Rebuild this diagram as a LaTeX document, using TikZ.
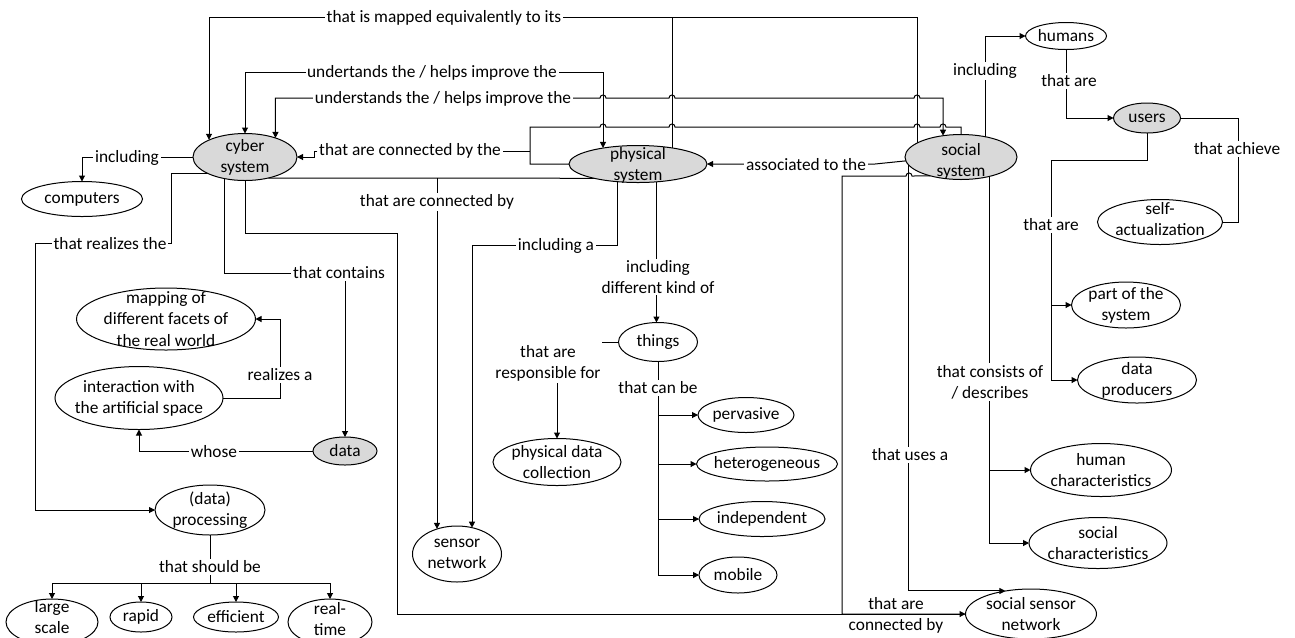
\documentclass[tikz,border=0pt]{standalone}
\usepackage{fontspec}
\setmainfont{Carlito}
\usetikzlibrary{shapes.geometric,arrows.meta}
\pgfdeclarelayer{bg}
\pgfsetlayers{bg,main}
\begin{document}
\begin{tikzpicture}[x=0.75pt,y=-0.75pt,
  every node/.style={font=\fontsize{13}{15.9}\selectfont},
  ell/.style 2 args={ellipse, draw, line width=0.75pt, inner sep=0pt, outer sep=0pt,
    minimum width=#1*0.75pt, minimum height=#2*0.75pt},
  gfill/.style={fill=gray!30},
  T/.style={label={[align=center,inner sep=0pt]center:{#1}}},
  Ts/.style 2 args={label={[align=center,inner sep=0pt,yshift=#2]center:{#1}}},
  lab/.style={fill=white, inner sep=1.2pt, align=center},
  conn/.style={line width=0.75pt},
  arr/.style={conn, -{Triangle[length=4.5pt,width=4.5pt]}},
  arrtwo/.style={conn, {Triangle[length=4.5pt,width=4.5pt]}-{Triangle[length=4.5pt,width=4.5pt]}}]
\useasboundingbox (0,0) rectangle (1295,637);

% concept nodes
\node[ell={104}{47},gfill,T={cyber\\system}] (cy) at (245,157) {};
\node[ell={121}{35},T={computers}] (comp) at (82,199) {};
\node[ell={138}{37},gfill,Ts={physical\\system}{-1pt}] (ph) at (638,164) {};
\node[ell={112}{45},gfill,Ts={social\\system}{-3.5pt}] (so) at (961,157) {};
\node[ell={81}{27},T={humans}] (hum) at (1066,36) {};
\node[ell={67}{30},gfill,T={users}] (us) at (1147,118) {};
\node[ell={125}{45},Ts={self-\\actualization}{2pt}] (sa) at (1160,222) {};
\node[ell={109}{46},T={part of the\\system}] (pos) at (1126,305) {};
\node[ell={119}{46},T={data\\producers}] (dp) at (1137,380) {};
\node[ell={141}{53},T={human\\characteristics}] (hc) at (1101,470) {};
\node[ell={138}{51},T={social\\characteristics}] (sc) at (1098,543) {};
\node[ell={131}{50},T={social sensor\\network}] (ssn) at (1031,614) {};
\node[ell={79}{39},T={things}] (th) at (658,342) {};
\node[ell={96}{35},T={pervasive}] (pv) at (746,415) {};
\node[ell={141}{34},T={heterogeneous}] (he) at (767,464) {};
\node[ell={126}{35},T={independent}] (ind) at (762,519) {};
\node[ell={78}{36},T={mobile}] (mob) at (738,575) {};
\node[ell={128}{47},T={physical data\\collection}] (pdc) at (557,462) {};
\node[ell={89}{56},T={sensor\\network}] (sn) at (457,554) {};
\node[ell={179}{62},T={mapping of\\different facets of\\the real world}] (map) at (166,319) {};
\node[ell={168}{63},T={interaction with\\the artificial space}] (int) at (139,398) {};
\node[ell={64}{28},gfill,T={data}] (data) at (345,451) {};
\node[ell={110}{50},T={(data)\\processing}] (proc) at (210,510) {};
\node[ell={92}{46},Ts={large\\scale}{3.5pt}] (ls) at (52,622) {};
\node[ell={62}{30},T={rapid}] (rap) at (141,617) {};
\node[ell={85}{30},T={efficient}] (eff) at (236,617) {};
\node[ell={84}{46},Ts={real-\\time}{2.5pt}] (rt) at (330,622) {};

% linking phrases
\node[lab] (L1) at (444,18) {that is mapped equivalently to its};
\node[lab] (L2) at (432,73) {undertands the / helps improve the};
\node[lab] (L3) at (443,99) {understands the / helps improve the};
\node[lab] (L4) at (410,151) {that are connected by the};
\node[lab] (L5) at (806,165) {associated to the};
\node[lab] (L6) at (437,202) {that are connected by};
\node[lab] (L7) at (556,246) {including a};
\node[lab] (L8) at (658,277) {including\\different kind of};
\node[lab] (L9) at (548,363) {that are\\responsible for};
\node[lab] (L10) at (658,388) {that can be};
\node[lab] (L11) at (110,244) {that realizes the};
\node[lab] (L12) at (339,273) {that contains};
\node[lab] (L13) at (127,158) {including};
\node[lab] (L14) at (280,375) {realizes a};
\node[lab] (L15) at (214,452) {whose};
\node[lab] (L16) at (210,567) {that should be};
\node[align=center,inner sep=0pt] (L17) at (896,615) {that are\\connected by};
\node[lab] (L18) at (985,71) {including};
\node[lab] (L19) at (1069,81) {that are};
\node[lab] (L20) at (1237,149) {that achieve};
\node[lab] (L21) at (1051,225) {that are};
\node[lab] (L22) at (990,382) {that consists of\\/ describes};
\node[lab] (L23) at (910,455) {that uses a};

\begin{pgfonlayer}{bg}
% that is mapped equivalently to its
\draw[arr] (so.162.5) |- (209,17) -- (209,17 |- cy.154.8);
\draw[conn] (ph.25.3) -- (ph.25.3 |- 0,17);
% undertands the / helps improve the
\draw[arrtwo] (cy.north) |- (603,72) -- (603,72 |- ph.155.6);
% understands the / helps improve the
\draw[arrtwo] (cy.32.6) |- (600,98) .. controls (600,94) and (606,94) .. (606,98)
  -- (669,98) .. controls (669,94) and (675,94) .. (675,98)
  -- (914,98) .. controls (914,94) and (920,94) .. (920,98)
  -- (943,98) -- (943,98 |- so.130.2);
% that are connected by the
\draw[conn] (ph.west) -- (530,164) -- (530,127)
  -- (600,127) .. controls (600,123) and (606,123) .. (606,127)
  -- (669,127) .. controls (669,123) and (675,123) .. (675,127)
  -- (914,127) .. controls (914,123) and (920,123) .. (920,127)
  -- (940,127) .. controls (940,123) and (946,123) .. (946,127)
  -- (961,127) -- (so.north);
\draw[conn] (530,151) -- (L4.east);
\draw[arr] (L4.west) -- ++(-3,0) |- (cy.east);
% associated to the
\draw[arr] (so.184) -- (875,164) -- (ph.east);
% that are connected by (sensor network)
\draw[conn] (cy.318) -- (ph.198.7);
\draw[arr] (cy.318 -| 437,0) -- (sn.128.7 -| 437,0);
% including a
\draw[arr] (ph.221.5) |- (472,245) -- (472,245 |- sn.60.4);
% including different kind of
\draw[arr] (ph.316.9) -- (ph.316.9 |- th.north);
% that are responsible for
\draw[conn] (th.west) -- (th.west -| L9.east);
\draw[arr] (L9.south -| pdc.north) -- (pdc.north);
% that can be
\draw[conn] (th.south) -- (th.south |- mob.west);
\draw[arr] (th.south |- pv.west) -- (pv.west);
\draw[arr] (th.south |- he.west) -- (he.west);
\draw[arr] (th.south |- ind.west) -- (ind.west);
\draw[arr] (th.south |- mob.west) -- (mob.west);
% that realizes the
\draw[arr] (cy.205.3) -| (171,243) -- (35,243) |- (proc.west);
% that contains
\draw[conn] (cy.227.3) |- (L12.west);
\draw[arr] (L12.south -| data.north) -- (data.north);
% including (computers)
\draw[arr] (cy.west) -| (comp.north);
% realizes a
\draw[arr] (int.east) -| (280,319) -- (map.east);
% whose
\draw[arr] (data.west) -| (int.south);
% that should be
\coordinate (hub) at (210,583);
\draw[conn] (proc.south) -- (hub);
\draw[arr] (hub) -| (ls.north);
\draw[arr] (hub) -| (rap.north);
\draw[arr] (hub) -| (eff.north);
\draw[arr] (hub) -| (rt.north);
% that are connected by (social sensor network)
\draw[arr] (cy.south) |- (397,233) |- (ssn.west);
\draw[conn] (so.212.3) -- (912,176) .. controls (912,172) and (906,172) .. (906,176)
  -- (842,176) |- (ssn.west);
% including (humans)
\draw[arr] (so.40.2) |- (hum.west);
% that are (users)
\draw[arr] (hum.south) |- (us.west);
% that achieve
\draw[conn] (us.east) -| (1238,222) -- (sa.east);
% that are (part of the system / data producers)
\draw[arr] (us.south) |- (1051,160) |- (dp.west);
\draw[arr] (1051,0 |- pos.west) -- (pos.west);
% that consists of / describes
\draw[arr] (so.326.4) |- (sc.west);
\draw[arr] (so.326.4 |- hc.west) -- (hc.west);
% that uses a
\draw[arr] (so.189.1) |- (ssn.138.2);
\end{pgfonlayer}
\end{tikzpicture}
\end{document}
